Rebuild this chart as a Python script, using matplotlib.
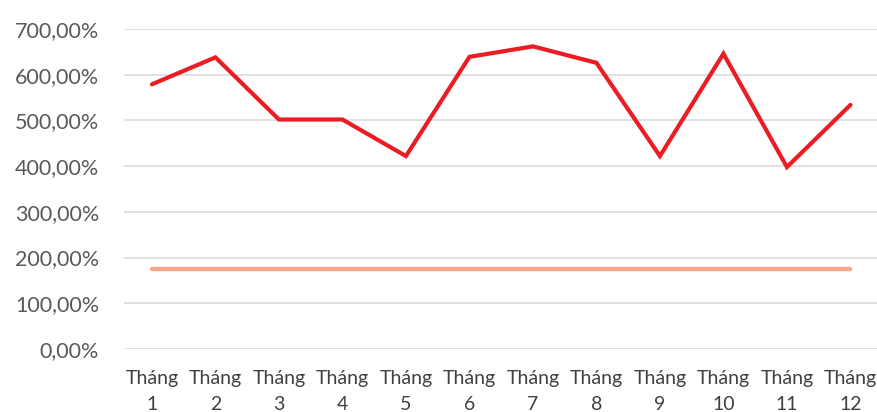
import matplotlib.pyplot as plt
from matplotlib.ticker import FuncFormatter

plt.rcParams['font.family'] = ['Lato', 'DejaVu Sans']

months = ["Tháng\n1", "Tháng\n2", "Tháng\n3", "Tháng\n4", "Tháng\n5", "Tháng\n6",
          "Tháng\n7", "Tháng\n8", "Tháng\n9", "Tháng\n10", "Tháng\n11", "Tháng\n12"]
ratio = [579, 638, 502, 502, 422, 639, 662, 626, 422, 646, 398, 534]
benchmark = [176] * 12

x = list(range(1, len(months) + 1))

fig = plt.figure(figsize=(8.77, 4.12), dpi=100)
ax = fig.add_axes([124 / 877, 63 / 412, 762 / 877, 320 / 412])

ax.plot(x, benchmark, color='#F8A88E', linewidth=3.2, solid_capstyle='round', zorder=3)
ax.plot(x, ratio, color='#EC1C24', linewidth=3.0, solid_capstyle='round',
        solid_joinstyle='miter', zorder=4)

ax.set_xlim(0.56, 12.56)
ax.set_ylim(0, 700)
ax.set_yticks(range(0, 701, 100))
ax.yaxis.set_major_formatter(FuncFormatter(lambda v, _: f"{v:.2f}%".replace('.', ',')))
ax.set_xticks(x)
ax.set_xticklabels(months, linespacing=1.65)

ax.grid(axis='y', color='#D9D9D9', linewidth=1.1)
ax.set_axisbelow(True)
for s in ax.spines.values():
    s.set_visible(False)
ax.tick_params(axis='y', length=0, pad=18, labelsize=15.5, labelcolor='#595959')
ax.tick_params(axis='x', length=0, pad=15, labelsize=14, labelcolor='#404040')

fig.savefig('out.png', dpi=100)
